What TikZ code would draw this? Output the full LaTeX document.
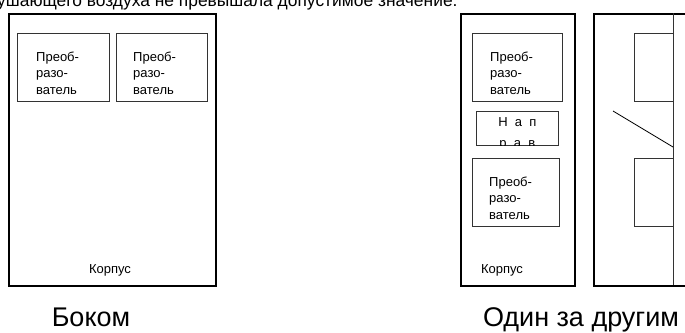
\documentclass[tikz,border=0pt]{standalone}
\usepackage{fontspec}
\setmainfont{Liberation Sans}
\usetikzlibrary{positioning}
\tikzset{body/.style={draw,line width=1.8pt,anchor=north west,inner sep=0pt},
    conv/.style={draw=black!80,line width=0.8pt,anchor=north west,inner sep=0pt},
    convtext/.style={anchor=north west,inner sep=0pt,align=left,
        font=\fontsize{13}{16.5}\selectfont},
    corpus/.style={anchor=base,inner sep=0pt,font=\fontsize{13}{16.5}\selectfont},
    caption/.style={anchor=base,inner sep=0pt,font=\fontsize{27}{27}\selectfont},
    }

\begin{document}
\begin{tikzpicture}[x=1pt,y=-1pt]
	\path[use as bounding box,clip] (0,0) rectangle (685,332);
	\node[anchor=base west,inner sep=0pt,font=\fontsize{17.4}{17.4}\selectfont] (head) at (-3,6.5)
		{ушающего воздуха не превышала допустимое значение.};
	%side by side
	\node[body,minimum width=207,minimum height=272] (side) at (8,13) {};
	\node[conv,minimum width=92,minimum height=68] (s1) at (17,33) {};
	\node[conv,minimum width=91,minimum height=68] (s2) at (116,33) {};
	\node[convtext] (s1t) at ([shift={(19,18.5)}]s1.north west) {Преоб-\\разо-\\ватель};
	\node[convtext] (s2t) at ([shift={(17,18.5)}]s2.north west) {Преоб-\\разо-\\ватель};
	\node[corpus] (sc) at (110,273) {Корпус};
	%one behind the other
	\node[body,minimum width=114,minimum height=272] (row) at (460,13) {};
	\node[conv,minimum width=90,minimum height=68] (r1) at (472,33) {};
	\node[conv,minimum width=82,minimum height=34] (nap) at (476,111) {};
	\begin{scope}
		\clip (nap.north west) rectangle (nap.south east);
		\node[anchor=north,inner sep=0pt,align=center,font=\fontsize{13}{21}\selectfont]
			(napt) at ([yshift=-6.7pt]nap.north) {Н~~а~~п\\р~~а~~в};
	\end{scope}
	\node[conv,minimum width=87,minimum height=68] (r2) at (472,158) {};
	\node[convtext] (r1t) at ([shift={(18,18.5)}]r1.north west) {Преоб-\\разо-\\ватель};
	\node[convtext] (r2t) at ([shift={(17,18.5)}]r2.north west) {Преоб-\\разо-\\ватель};
	\node[corpus] (rc) at (502,273) {Корпус};
	%next body, cut at the edge
	\node[body,minimum width=130,minimum height=272] (back) at (593,13) {};
	\coordinate (wtop) at (673,13);
	\coordinate (wbot) at (673,285);
	\draw[black!80,line width=0.8pt] (wtop) -- (wbot);
	\node[conv,minimum width=39,minimum height=68] (b1) at (634,33) {};
	\node[conv,minimum width=39,minimum height=68] (b2) at (634,158) {};
	\coordinate (flapa) at (613,111);
	\coordinate (flapb) at (673,147);
	\draw[line width=0.8pt] (flapa) -- (flapb);
	%captions
	\node[caption] (cside) at (91,326) {Боком};
	\node[caption] (crow) at (581,326) {Один за другим};
\end{tikzpicture}
\end{document}
